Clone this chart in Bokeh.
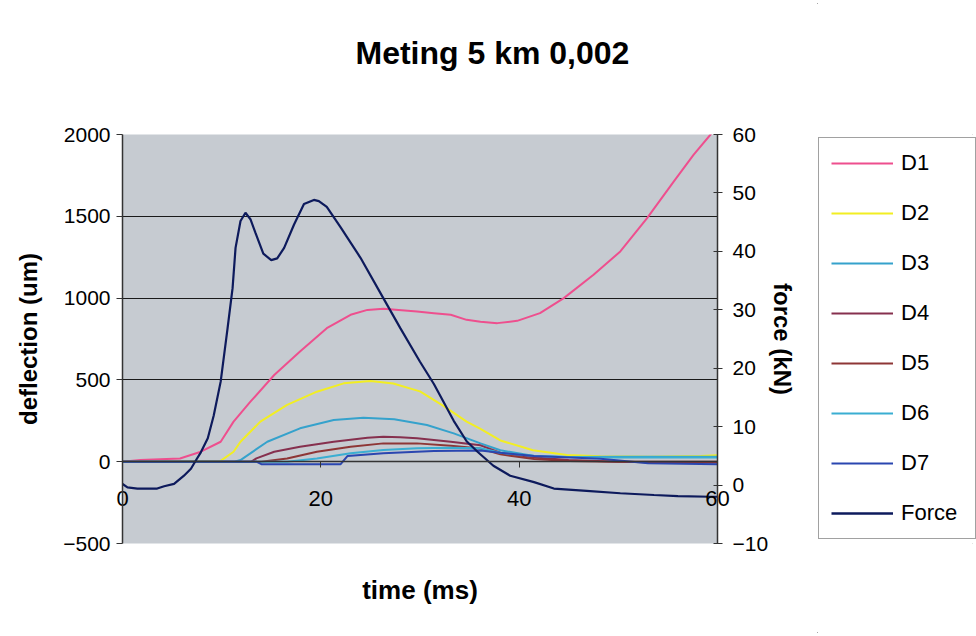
from bokeh.plotting import figure
from bokeh.layouts import row
from bokeh.models import Range1d, LinearAxis, FixedTicker, Legend, LegendItem, Title
from bokeh.embed import file_html
from bokeh.resources import INLINE

FONT = "Liberation Sans"

# ---------------- data ----------------
title_text = "Meting 5 km 0,002"
x_ticks = [0, 20, 40, 60]
defl_ticks = [-500, 0, 500, 1000, 1500, 2000]
force_ticks = [-10, 0, 10, 20, 30, 40, 50, 60]

t_force = [0.0, 0.5, 1.5, 3.5, 4.2, 5.2, 6.2, 6.9, 7.5, 7.9, 8.6, 9.2, 9.9, 10.6, 11.1,
           11.4, 11.9, 12.4, 12.9, 13.4, 14.2, 15.0, 15.6, 16.3, 17.3, 18.3, 19.3, 19.8,
           20.6, 22.0, 24.0, 26.3, 28.0, 30.0, 31.4, 33.4, 34.7, 35.8, 37.4, 39.1, 41.5,
           43.5, 46.8, 50.2, 53.6, 56.0, 59.3, 60.0]
force = [0.2, -0.4, -0.6, -0.6, -0.2, 0.2, 1.6, 2.8, 4.5, 5.6, 8.0, 11.9, 17.7, 26.9, 33.7,
         40.6, 45.2, 46.6, 45.5, 43.2, 39.6, 38.5, 38.8, 40.6, 44.6, 48.1, 48.8, 48.6,
         47.6, 44.1, 38.9, 32.0, 26.9, 21.1, 17.3, 11.0, 7.5, 5.7, 3.3, 1.6, 0.5,
         -0.6, -1.0, -1.4, -1.7, -1.9, -2.0, -2.0]

t_d1 = [0.0, 1.8, 5.8, 7.9, 9.9, 11.2, 12.9, 15.3, 17.9, 20.6, 23.0, 24.7, 26.3, 29.7,
        31.4, 33.1, 34.7, 36.1, 37.8, 39.8, 42.1, 44.5, 47.5, 50.2, 52.9, 55.6, 57.6,
        59.3, 60.0]
d1 = [0, 10, 20, 61, 122, 245, 367, 530, 673, 816, 898, 928, 935, 918,
      908, 898, 867, 855, 847, 861, 908, 1000, 1143, 1285, 1489, 1714, 1877,
      2000, 2060]

t_d2 = [0.0, 9.9, 11.2, 11.9, 13.9, 16.6, 19.6, 22.3, 25.0, 27.3, 30.0, 32.4, 34.7,
        36.1, 38.1, 41.4, 44.8, 48.2, 53.2, 58.3, 60.0]
d2 = [0, 5, 61, 122, 245, 347, 428, 479, 494, 478, 430, 340, 245,
      200, 130, 70, 41, 33, 30, 35, 40]

t_d3 = [0.0, 11.3, 11.9, 14.6, 17.9, 21.3, 24.3, 27.4, 30.7, 33.4, 36.1, 38.1, 41.5,
        44.8, 50.0, 60.0]
d3 = [0, 0, 10, 122, 204, 255, 269, 259, 224, 173, 112, 70, 35,
      28, 30, 30]

t_d4 = [0.0, 13.0, 13.5, 15.3, 17.9, 21.3, 24.7, 26.3, 28.0, 29.7, 33.1, 36.1, 38.1,
        41.5, 45.0, 50.0, 55.0, 60.0]
d4 = [0, 0, 20, 61, 92, 122, 147, 153, 150, 143, 122, 100, 55,
      25, 10, 0, -5, -5]

t_d5 = [0.0, 14.0, 16.6, 19.6, 23.0, 26.3, 29.7, 33.1, 36.1, 38.1, 41.5, 45.0, 50.0, 60.0]
d5 = [0, 0, 20, 61, 92, 112, 112, 98, 80, 45, 16, 5, 0, 0]

t_d6 = [0.0, 16.6, 19.6, 23.0, 26.3, 29.7, 33.1, 36.1, 38.1, 41.5, 45.0, 50.0, 60.0]
d6 = [0, 0, 20, 51, 71, 82, 86, 82, 55, 35, 28, 25, 25]

t_d7 = [0.0, 13.5, 14.0, 22.0, 22.7, 26.3, 31.4, 36.1, 38.1, 41.5, 48.2, 53.0, 60.0]
d7 = [0, 0, -15, -15, 35, 51, 65, 68, 55, 35, 18, -10, -15]

series_names = ["D1", "D2", "D3", "D4", "D5", "D6", "D7", "Force"]
series_colors = ["#EE4F8E", "#F2EE22", "#35A2CC", "#86304E", "#8E3636", "#3AAED2",
                 "#2A46B0", "#0D1A5C"]
series_data = [(t_d1, d1), (t_d2, d2), (t_d3, d3), (t_d4, d4), (t_d5, d5), (t_d6, d6),
               (t_d7, d7), (t_force, force)]

# ---------------- main figure ----------------
p = figure(width=817, height=636, output_backend="svg", toolbar_location=None,
           x_range=Range1d(0, 60), y_range=Range1d(-500, 2000),
           x_axis_location=None, y_axis_location="left",
           min_border_left=122, min_border_right=100, min_border_top=134,
           min_border_bottom=93)
p.background_fill_color = "#C6CBD1"
p.border_fill_color = "white"
p.outline_line_color = None

for g in p.xgrid:
    g.visible = False
for g in p.ygrid:
    g.ticker = FixedTicker(ticks=[0, 500, 1000, 1500, 2000])
    g.grid_line_color = "#1a1a1a"
    g.grid_line_width = 1.2

# title (a blank second line lifts it above the plot area)
p.title.text = title_text + "\n "
p.title.align = "left"
p.title.offset = 233
p.title.vertical_align = "bottom"
p.title.text_font = FONT
p.title.text_font_size = "32px"
p.title.text_font_style = "bold"
p.title.text_color = "black"
p.title.standoff = 56

# left axis
ya = p.yaxis[0]
ya.ticker = FixedTicker(ticks=defl_ticks)
ya.major_tick_out = 6
ya.major_tick_in = 0
ya.minor_tick_out = 0
ya.minor_tick_in = 0
ya.axis_line_color = "#333333"
ya.axis_line_width = 1.5
ya.major_tick_line_color = "#333333"
ya.major_label_text_font = FONT
ya.major_label_text_font_size = "21px"
ya.major_label_text_color = "black"
ya.major_label_standoff = 6
ya.axis_label = "deflection (um)"
ya.axis_label_text_font = FONT
ya.axis_label_text_font_size = "24px"
ya.axis_label_text_font_style = "bold"
ya.axis_label_text_color = "black"
ya.axis_label_standoff = 18

# right axis (force)
p.extra_y_ranges = {"force": Range1d(-10, 60)}
ra = LinearAxis(y_range_name="force", ticker=FixedTicker(ticks=force_ticks))
ra.major_tick_out = 5
ra.major_tick_in = 4
ra.minor_tick_out = 0
ra.minor_tick_in = 0
ra.axis_line_color = "#333333"
ra.axis_line_width = 1.5
ra.major_tick_line_color = "#333333"
ra.major_label_text_font = FONT
ra.major_label_text_font_size = "21px"
ra.major_label_text_color = "black"
ra.major_label_standoff = 10
ra.axis_label = "force (kN)"
ra.axis_label_text_font = FONT
ra.axis_label_text_font_size = "24px"
ra.axis_label_text_font_style = "bold"
ra.axis_label_text_color = "black"
ra.axis_label_standoff = -2
p.add_layout(ra, "right")

# time axis line and ticks crossing at deflection = 0
xa = LinearAxis(fixed_location=0, ticker=FixedTicker(ticks=x_ticks))
xa.major_tick_out = 6
xa.major_tick_in = 0
xa.minor_tick_out = 0
xa.minor_tick_in = 0
xa.axis_line_color = "#333333"
xa.axis_line_width = 1.3
xa.major_tick_line_color = "#333333"
xa.major_label_overrides = {v: "" for v in x_ticks}
p.add_layout(xa, "below")

# time tick labels (just under the zero line)
xb = LinearAxis(ticker=FixedTicker(ticks=x_ticks))
xb.axis_line_color = None
xb.major_tick_line_color = None
xb.minor_tick_line_color = None
xb.major_tick_out = 0
xb.major_tick_in = 0
xb.minor_tick_out = 0
xb.minor_tick_in = 0
xb.major_label_text_font = FONT
xb.major_label_text_font_size = "22px"
xb.major_label_text_color = "black"
xb.major_label_standoff = -53
p.add_layout(xb, "below")

p.add_layout(Title(text="time (ms)", align="center", text_font=FONT,
                   text_font_size="26px", text_font_style="bold",
                   text_color="black", standoff=58), "below")

# data lines
for (tt, yy), col in zip(series_data[:7], series_colors[:7]):
    p.line(tt, yy, line_color=col, line_width=2)
p.line(t_force, force, line_color=series_colors[7], line_width=2.2, y_range_name="force")

# ---------------- legend panel ----------------
q = figure(width=159, height=636, output_backend="svg", toolbar_location=None,
           x_range=Range1d(100, 101), y_range=Range1d(5000, 5001),
           x_axis_location=None, y_axis_location=None,
           min_border_left=0, min_border_right=0, min_border_top=0, min_border_bottom=0)
q.background_fill_color = "white"
q.border_fill_color = "white"
q.outline_line_color = None
q.grid.visible = False
swatches = [q.line(tt, yy, line_color=c, line_width=2.4 if n == "Force" else 2)
            for (tt, yy), n, c in zip(series_data, series_names, series_colors)]

legend = Legend(items=[LegendItem(label=n, renderers=[r]) for n, r in zip(series_names, swatches)],
                location=(1, 4))
legend.border_line_color = "#444444"
legend.border_line_width = 1.5
legend.background_fill_color = "white"
legend.background_fill_alpha = 1
legend.label_text_font = FONT
legend.label_text_font_size = "22px"
legend.label_text_color = "black"
legend.glyph_width = 62
legend.glyph_height = 22
legend.label_height = 22
legend.label_width = 62
legend.spacing = 24
legend.padding = 12
legend.label_standoff = 8
legend.margin = 0
q.add_layout(legend)

layout = row(p, q)
try:
    from bokeh.models import GlobalInlineStyleSheet
    layout.stylesheets = [GlobalInlineStyleSheet(
        css="body { outline: 1px solid #8a8a8a; outline-offset: -4px; }")]
except Exception:
    pass

open("out.html", "w").write(file_html(layout, INLINE))
